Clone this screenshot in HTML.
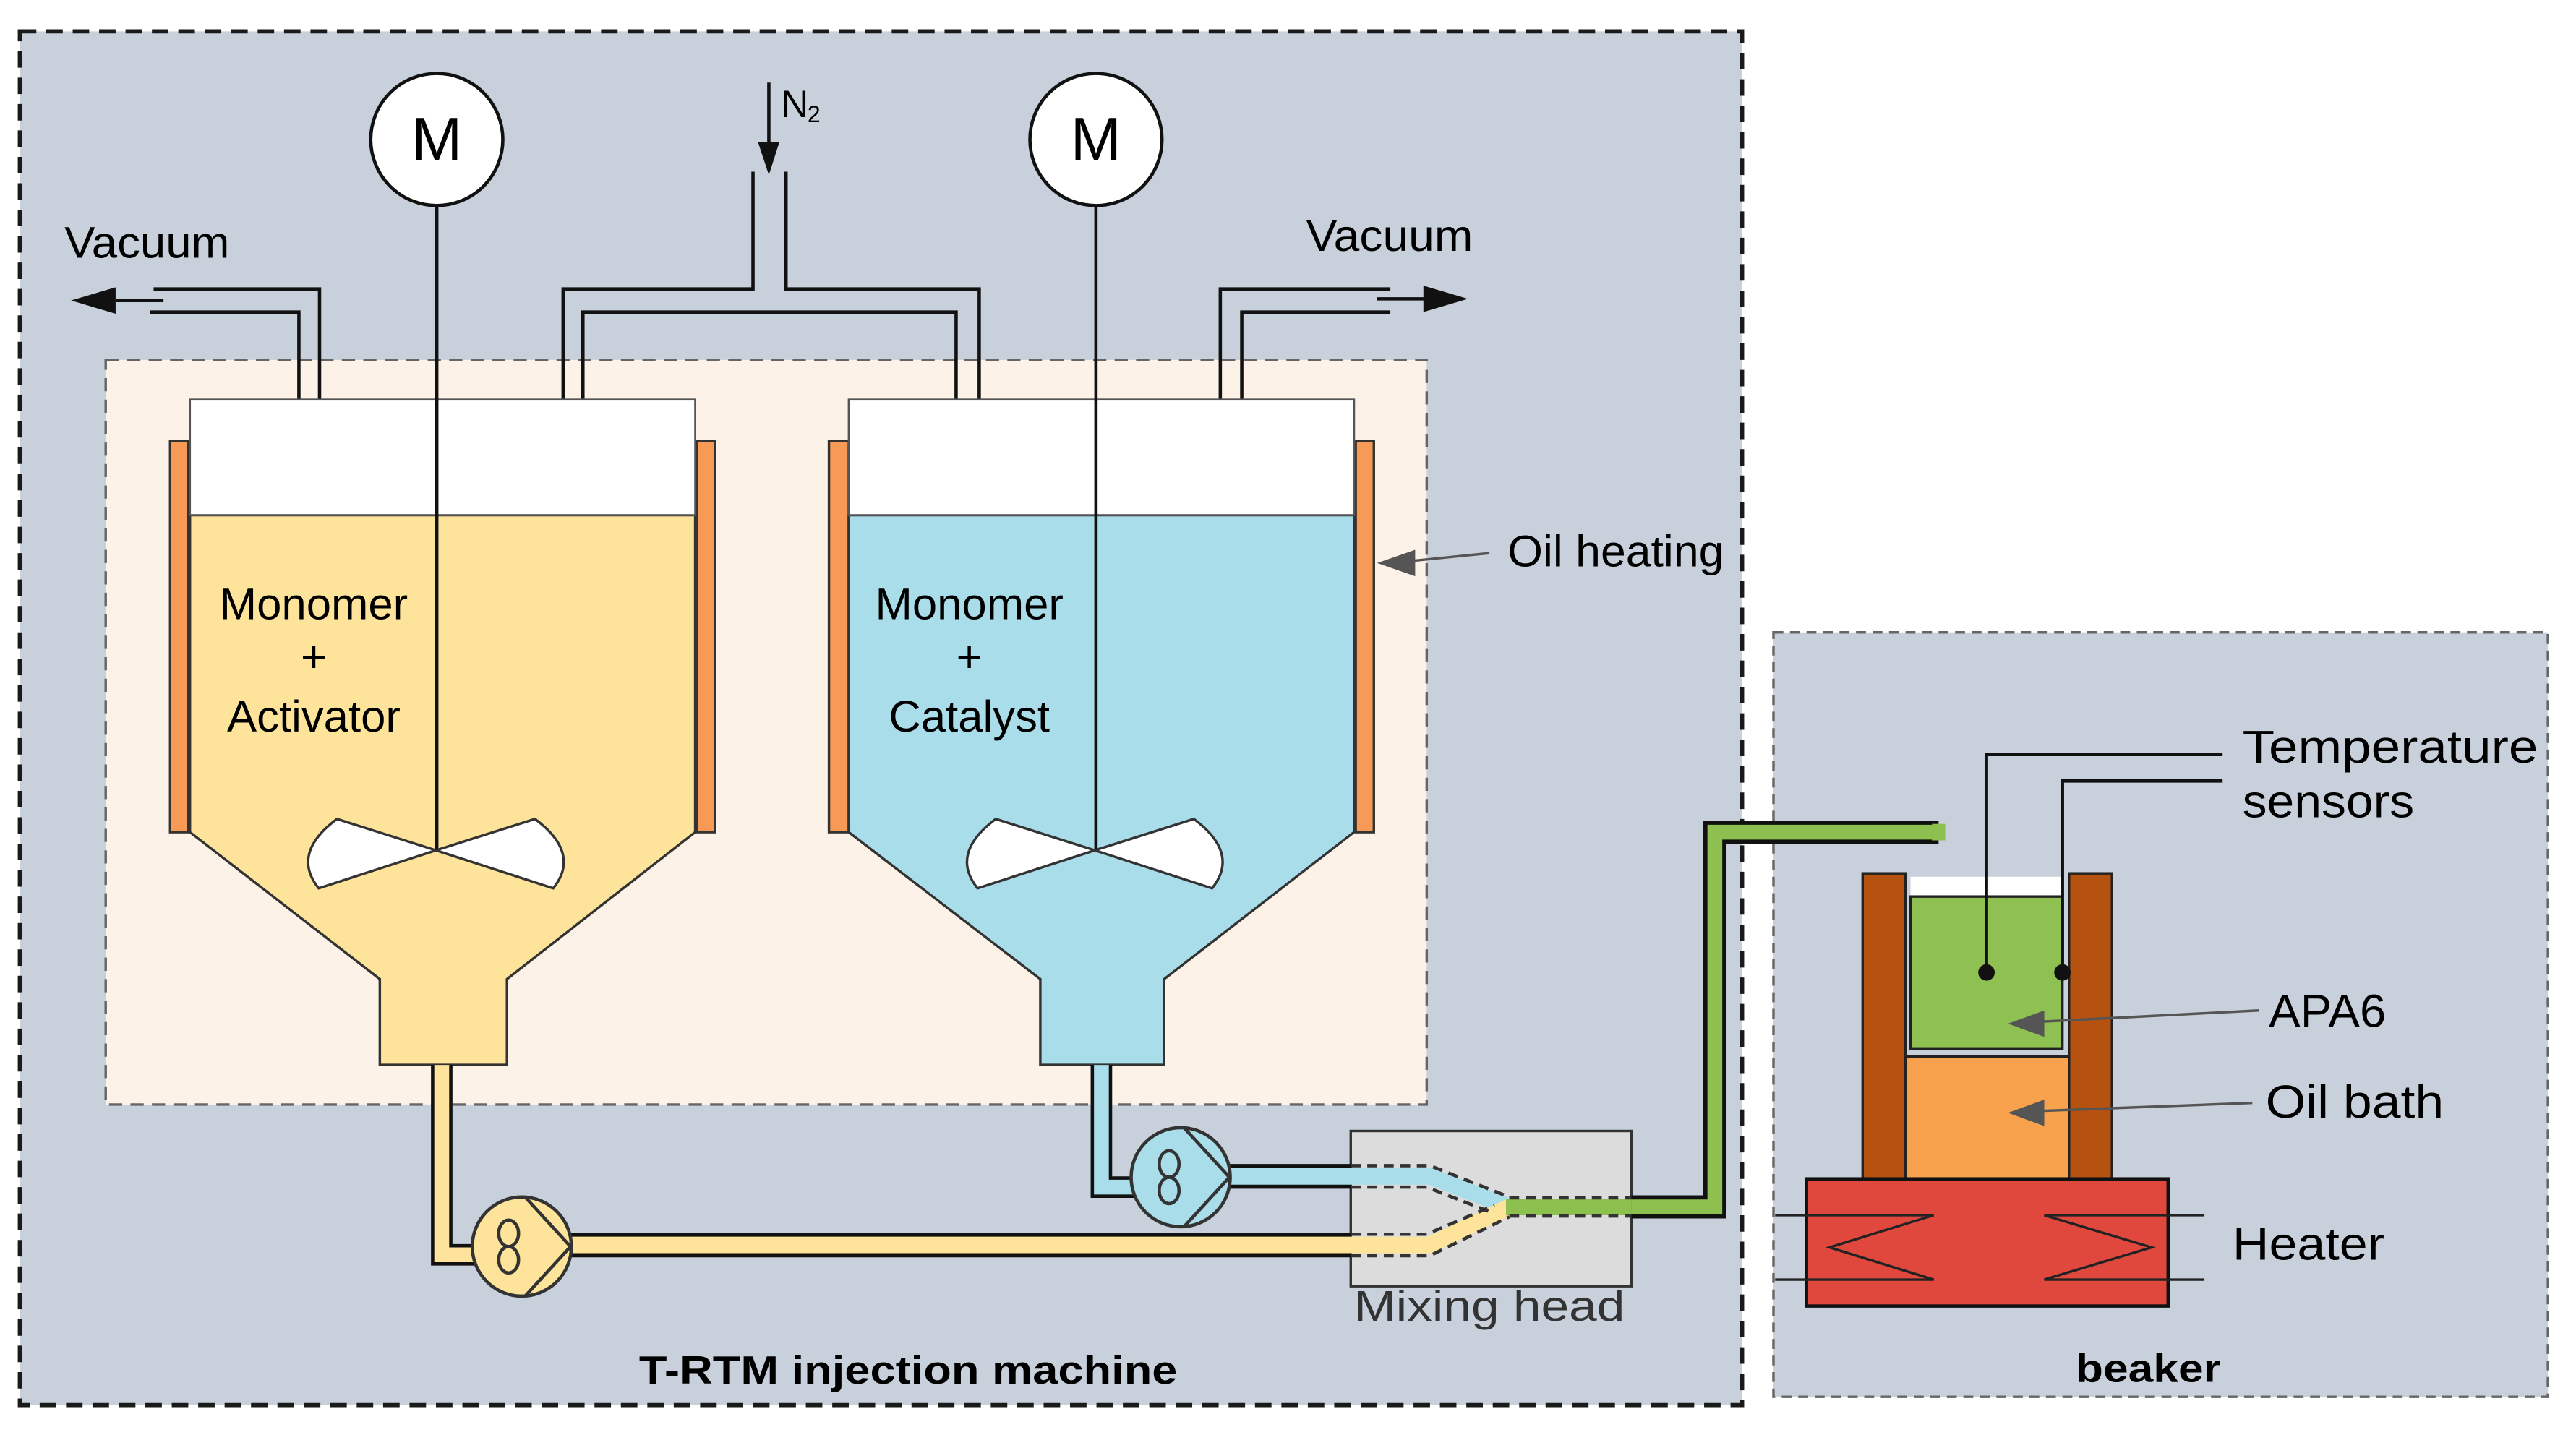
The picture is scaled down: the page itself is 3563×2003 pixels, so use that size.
<!DOCTYPE html>
<html><head><meta charset="utf-8"><style>html,body{margin:0;padding:0;background:#fff}svg{display:block}text{font-family:"Liberation Sans",sans-serif}</style></head>
<body>
<svg width="3563" height="2003" viewBox="0 0 1560 877" xmlns="http://www.w3.org/2000/svg">
<rect width="1560" height="877" fill="#fff"/>
<rect x="12" y="19" width="1043" height="832" fill="#c8d1db" stroke="#1a1a1a" stroke-width="2.5" stroke-dasharray="10,6"/>
<rect x="1074" y="383" width="469" height="463" fill="#c8d1db" stroke="#666" stroke-width="1.5" stroke-dasharray="6,4"/>
<rect x="64" y="218" width="800" height="451" fill="#fdf2e8" stroke="#666" stroke-width="1.5" stroke-dasharray="8,5"/>

<g fill="none" stroke="#111" stroke-width="2">
<path d="M193.5,258 V175 H93"/><path d="M181,258 V189 H91"/>
<line x1="70" y1="182" x2="99" y2="182"/>
<path d="M341,258 V175 H456 V104"/><path d="M353,258 V189 H579 V258"/>
<path d="M593,258 V175 H476 V104"/>
<path d="M739,258 V175 H842"/><path d="M752,258 V189 H842"/>
<line x1="834" y1="181" x2="864" y2="181"/>
</g>
<polygon points="43,182 70,174 70,190" fill="#111"/>
<polygon points="889,181 862,173 862,189" fill="#111"/>
<line x1="465.6" y1="50" x2="465.6" y2="90" stroke="#111" stroke-width="2"/>
<polygon points="465.6,106 459,86 472,86" fill="#111"/>
<text x="473" y="71" font-size="23">N</text><text x="489" y="74" font-size="14">2</text>
<text x="39" y="156" font-size="27" textLength="100" lengthAdjust="spacingAndGlyphs">Vacuum</text>
<text x="791" y="152" font-size="27" textLength="101" lengthAdjust="spacingAndGlyphs">Vacuum</text>

<rect x="103" y="267" width="11" height="237" fill="#f79a55" stroke="#333" stroke-width="1.5"/>
<rect x="422" y="267" width="11" height="237" fill="#f79a55" stroke="#333" stroke-width="1.5"/>
<path d="M115,312 H421 V504 L307,593 V645 H230 V593 L115,504 Z" fill="#fde49a" stroke="#333" stroke-width="1.5"/>
<rect x="115" y="242" width="306" height="70" fill="#fff" stroke="#555" stroke-width="1.2"/>
<line x1="264.5" y1="124" x2="264.5" y2="515" stroke="#111" stroke-width="2"/>
<path d="M264,515 L204,496 Q176,517 193,538 Z M264,515 L324,496 Q352,517 335,538 Z" fill="#fff" stroke="#333" stroke-width="1.5"/>
<circle cx="264.5" cy="84.5" r="40" fill="#fff" stroke="#111" stroke-width="2"/>
<text x="264.5" y="97" font-size="37" text-anchor="middle">M</text>
<text x="190" y="375" font-size="27" text-anchor="middle">Monomer</text>
<text x="190" y="407" font-size="27" text-anchor="middle">+</text>
<text x="190" y="443" font-size="27" text-anchor="middle">Activator</text>

<rect x="502" y="267" width="12" height="237" fill="#f79a55" stroke="#333" stroke-width="1.5"/>
<rect x="821" y="267" width="11" height="237" fill="#f79a55" stroke="#333" stroke-width="1.5"/>
<path d="M514,312 H820 V504 L705,593 V645 H630 V593 L514,504 Z" fill="#a9dde9" stroke="#333" stroke-width="1.5"/>
<rect x="514" y="242" width="306" height="70" fill="#fff" stroke="#555" stroke-width="1.2"/>
<line x1="663.7" y1="124" x2="663.7" y2="515" stroke="#111" stroke-width="2"/>
<path d="M663,515 L603,496 Q575,517 592,538 Z M663,515 L723,496 Q751,517 734,538 Z" fill="#fff" stroke="#333" stroke-width="1.5"/>
<circle cx="663.7" cy="84.5" r="40" fill="#fff" stroke="#111" stroke-width="2"/>
<text x="663.7" y="97" font-size="37" text-anchor="middle">M</text>
<text x="587" y="375" font-size="27" text-anchor="middle">Monomer</text>
<text x="587" y="407" font-size="27" text-anchor="middle">+</text>
<text x="587" y="443" font-size="27" text-anchor="middle">Catalyst</text>

<line x1="902" y1="335" x2="852" y2="340" stroke="#555" stroke-width="1.5"/>
<polygon points="834,341 857,333 857,349" fill="#555"/>
<text x="913" y="343" font-size="27" textLength="131" lengthAdjust="spacingAndGlyphs">Oil heating</text>

<rect x="818" y="685" width="170" height="94" fill="#dcdcdc" stroke="#333" stroke-width="1.5"/>
<path d="M267.5,645 V760 H292" fill="none" stroke="#111" stroke-width="13"/>
<path d="M267.5,645 V760 H292" fill="none" stroke="#fde49a" stroke-width="9"/>
<path d="M345,754 H818" fill="none" stroke="#111" stroke-width="15"/>
<path d="M345,754 H818" fill="none" stroke="#fde49a" stroke-width="10"/>
<path d="M667,645 V719 H690" fill="none" stroke="#111" stroke-width="13"/>
<path d="M667,645 V719 H690" fill="none" stroke="#a9dde9" stroke-width="9"/>
<path d="M743,712.5 H818" fill="none" stroke="#111" stroke-width="15"/>
<path d="M743,712.5 H818" fill="none" stroke="#a9dde9" stroke-width="10"/>
<path d="M818,712.5 H866 L914,731" fill="none" stroke="#a9dde9" stroke-width="10"/>
<path d="M818,754 H866 L914,731" fill="none" stroke="#fde49a" stroke-width="10"/>
<path d="M818,706 H866 L914,725 M818,719 H864 L905,735" fill="none" stroke="#333" stroke-width="2" stroke-dasharray="6,4"/>
<path d="M818,760.5 H866 L914,737 M818,747.5 H864 L905,730" fill="none" stroke="#333" stroke-width="2" stroke-dasharray="6,4"/>
<path d="M912,731 H988" fill="none" stroke="#8dc04e" stroke-width="10"/>
<path d="M914,725.5 H988 M914,736.5 H988" fill="none" stroke="#333" stroke-width="2" stroke-dasharray="6,4"/>
<path d="M988,731 H1038.5 V504 H1174" fill="none" stroke="#111" stroke-width="14"/>
<path d="M988,731 H1038.5 V504 H1174" fill="none" stroke="#8dc04e" stroke-width="9"/>
<rect x="1170" y="499" width="8" height="10" fill="#8dc04e"/>
<circle cx="316" cy="755" r="30" fill="#fde49a" stroke="#333" stroke-width="2"/>
<path d="M318,725 L345.5,755 L318,785" fill="none" stroke="#333" stroke-width="2"/>
<ellipse cx="308" cy="747" rx="6" ry="8" fill="none" stroke="#333" stroke-width="2"/><ellipse cx="308" cy="763" rx="6" ry="8" fill="none" stroke="#333" stroke-width="2"/>
<circle cx="715" cy="713" r="30" fill="#a9dde9" stroke="#333" stroke-width="2"/>
<path d="M717,683 L744.5,713 L717,743" fill="none" stroke="#333" stroke-width="2"/>
<ellipse cx="708" cy="705" rx="6" ry="8" fill="none" stroke="#333" stroke-width="2"/><ellipse cx="708" cy="721" rx="6" ry="8" fill="none" stroke="#333" stroke-width="2"/>
<text x="820" y="800" font-size="26" fill="#333" textLength="164" lengthAdjust="spacingAndGlyphs">Mixing head</text>
<text x="387" y="838" font-size="24" font-weight="bold" textLength="326" lengthAdjust="spacingAndGlyphs">T-RTM injection machine</text>

<rect x="1128" y="529" width="26" height="185" fill="#b5520f" stroke="#222" stroke-width="1.5"/>
<rect x="1253" y="529" width="26" height="185" fill="#b5520f" stroke="#222" stroke-width="1.5"/>
<rect x="1154" y="640" width="99" height="74" fill="#f9a24e" stroke="#222" stroke-width="1.5"/>
<rect x="1157" y="531" width="92" height="12" fill="#fff"/>
<rect x="1157" y="543" width="92" height="92" fill="#8fc052" stroke="#222" stroke-width="1.5"/>
<rect x="1094" y="714" width="219" height="77" fill="#e0483e" stroke="#111" stroke-width="2"/>
<g stroke="#222" stroke-width="1.5" fill="none">
<path d="M1075,736 H1171 L1108,755.5 L1171,775 H1075"/>
<path d="M1335,736 H1238 L1303,755.5 L1238,775 H1335"/>
</g>
<g stroke="#111" stroke-width="2" fill="none">
<path d="M1203,589 V457 H1346"/><path d="M1249,589 V473 H1346"/>
</g>
<circle cx="1203" cy="589" r="5" fill="#111"/><circle cx="1249" cy="589" r="5" fill="#111"/>
<line x1="1368" y1="612" x2="1232" y2="619" stroke="#555" stroke-width="1.5"/>
<polygon points="1216,620 1238,612 1238,628" fill="#555"/>
<line x1="1364" y1="668" x2="1232" y2="673" stroke="#555" stroke-width="1.5"/>
<polygon points="1216,674 1238,666 1238,682" fill="#555"/>
<text x="1358" y="462" font-size="28" textLength="179" lengthAdjust="spacingAndGlyphs">Temperature</text>
<text x="1358" y="495" font-size="28" textLength="104" lengthAdjust="spacingAndGlyphs">sensors</text>
<text x="1374" y="622" font-size="28" textLength="71" lengthAdjust="spacingAndGlyphs">APA6</text>
<text x="1372" y="677" font-size="28" textLength="108" lengthAdjust="spacingAndGlyphs">Oil bath</text>
<text x="1352" y="763" font-size="28" textLength="92" lengthAdjust="spacingAndGlyphs">Heater</text>
<text x="1257" y="837" font-size="24" font-weight="bold" textLength="88" lengthAdjust="spacingAndGlyphs">beaker</text>
</svg>
</body></html>
